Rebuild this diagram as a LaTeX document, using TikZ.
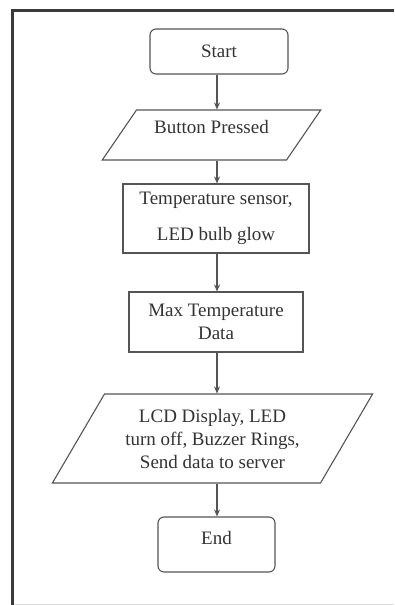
\documentclass[tikz,border=0pt]{standalone}
\usepackage{fontspec}
\setmainfont{Liberation Serif}
\usetikzlibrary{shapes.geometric,arrows.meta}
\definecolor{linec}{HTML}{555555}
\definecolor{textc}{HTML}{333333}
\definecolor{framec}{HTML}{3A3A3A}
\begin{document}
\begin{tikzpicture}[x=1pt,y=-1pt,
  every node/.style={font=\fontsize{19}{23}\selectfont, text=textc, draw=linec, line width=1.1pt, inner sep=0pt, align=center},
  termbox/.style={rectangle, rounded corners=6pt},
  procbox/.style={rectangle},
  iobox/.style={trapezium, trapezium stretches=true},
  arr/.style={-{Stealth[length=7pt,width=6pt]}, draw=linec, line width=1.1pt}
]
\useasboundingbox (0,0) rectangle (394,605);
% frame
\draw[framec, line width=3pt] (12.5,605) -- (12.5,10) -- (394,10);
\draw[framec, line width=2pt] (11,10) -- (394,10);
\draw[black!15, line width=1pt] (14,604) -- (394,604);

\node[termbox, minimum width=138pt, minimum height=45pt] (start) at (219,51.5) {Start};
\node[iobox, trapezium left angle=48, trapezium right angle=132, minimum width=219pt, minimum height=50pt, text height=13pt, text depth=16pt] (btn) at (211.5,135) {Button Pressed};
\node[procbox, minimum width=186pt, minimum height=69pt] (temp) at (216,218.5) {Temperature sensor,\\[13pt] LED bulb glow};
\node[procbox, minimum width=174pt, minimum height=60pt] (maxd) at (216,322) {Max Temperature\\ Data};
\node[iobox, trapezium left angle=54.7, trapezium right angle=125.3, minimum width=321pt, minimum height=89pt] (lcd) at (212.5,438.5) {LCD Display, LED\\ turn off, Buzzer Rings,\\ Send data to server};
\node[termbox, minimum width=117pt, minimum height=55pt, text height=13pt, text depth=14pt] (finish) at (216.5,544.5) {End};

\coordinate (ax) at (217,0);
\draw[arr] (start.south -| ax) -- (btn.north -| ax);
\draw[arr] (btn.south -| ax) -- (temp.north -| ax);
\draw[arr] (temp.south -| ax) -- (maxd.north -| ax);
\draw[arr] (maxd.south -| ax) -- (lcd.north -| ax);
\draw[arr] (lcd.south -| ax) -- (finish.north -| ax);
\end{tikzpicture}
\end{document}
